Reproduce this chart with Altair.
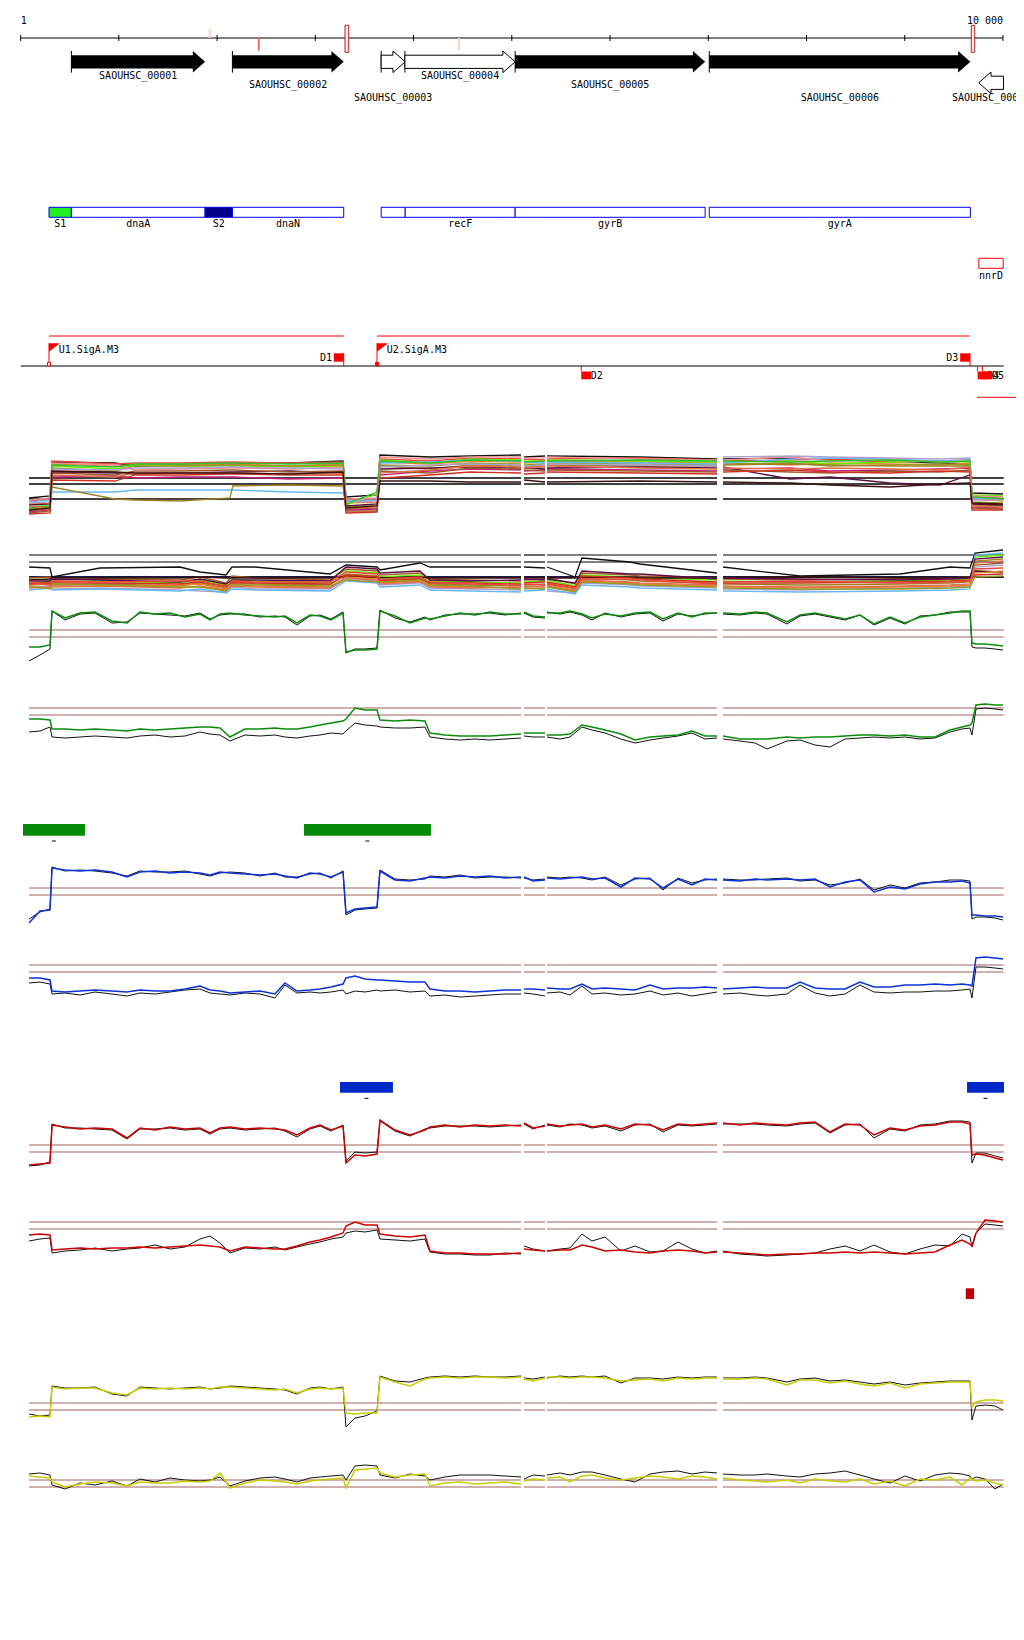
import altair as alt
import pandas as pd

# ====================== values ======================
# --- genome ruler (bp) ---
RULER_TICKS = [1, 1000, 2000, 3000, 4000, 5000, 6000, 7000, 8000, 9000, 10000]
RULER_LABEL_POS = [1, 10000]
RULER_LABELS = ["1", "10 000"]

# sites marked on the ruler
SITE_START = [1915, 2414, 3302, 4452, 9677]
SITE_END = [1935, 2434, 3340, 4472, 9712]
SITE_KIND = ["faint_up", "strong_down", "boxed", "faint_down", "boxed"]

# --- genes ---
GENE_NAMES = ["SAOUHSC_00001", "SAOUHSC_00002", "SAOUHSC_00003", "SAOUHSC_00004",
              "SAOUHSC_00005", "SAOUHSC_00006", "SAOUHSC_00007"]
GENE_START = [517, 2156, 3670, 3912, 5034, 7010, 9753]
GENE_END = [1878, 3289, 3915, 5034, 6968, 9668, 10005]
GENE_STRAND = ["+", "+", "+", "+", "+", "+", "-"]
GENE_FILLED = [True, True, False, False, True, True, False]
GENE_LANE = [0, 0, 0, 0, 0, 0, 1]
GENE_LABEL_ROW = [0, 1, 2, 0, 1, 2, 2]

# --- annotation boxes ---
BOX_LABELS = ["S1", "dnaA", "S2", "dnaN", "", "recF", "gyrB", "gyrA"]
BOX_START = [289, 517, 1878, 2156, 3670, 3915, 5034, 7010]
BOX_END = [517, 1878, 2156, 3289, 3915, 5034, 6968, 9668]
BOX_KIND = ["sig1", "cds", "sig2", "cds", "cds", "cds", "cds", "cds"]
NNRD_LABEL, NNRD_START, NNRD_END = "nnrD", 9754, 10002

# --- transcription units, promoters, terminators ---
TU_START = [289, 3628]
TU_END = [3289, 9662]
REV_TU_START = [9736]
REV_TU_END = [10400]
PROM_NAMES = ["U1.SigA.M3", "U2.SigA.M3"]
PROM_POS = [289, 3628]
PROM_OPEN = [True, False]
TERM_NAMES = ["D1", "D2", "D3", "D4", "D5"]
TERM_POS = [3289, 5707, 9664, 9742, 9790]
TERM_STRAND = ["+", "-", "+", "-", "-"]

# --- regions (bars) ---
GREEN_BAR_START = [24, 2884]
GREEN_BAR_END = [655, 4177]
BLUE_BAR_START = [3251, 9634]
BLUE_BAR_END = [3790, 10010]
RED_BOX_START = [9621]
RED_BOX_END = [9706]

# --- probe positions shared by the two-colour signal tracks (bp) ---
PROBE_POS = [86, 197, 299, 320, 452, 605, 757, 930, 1083, 1215,
             1368, 1521, 1673, 1826, 1928, 2030, 2131, 2284, 2437, 2589,
             2691, 2813, 2946, 3048, 3159, 3282, 3312, 3404, 3506, 3628,
             3658, 3811, 3964, 4116, 4167, 4320, 4473, 4625, 4778, 4931,
             5094,
             5124, 5216, 5338,
             5358, 5491, 5592, 5714, 5816, 5949, 6111, 6254, 6407, 6539, 6692, 6834, 6967, 7089,
             7150, 7323, 7475, 7598, 7801, 7934, 8086, 8239, 8392, 8544,
             8687, 8850, 9002, 9155, 9308, 9460, 9583, 9664, 9684, 9725,
             9817, 9918, 10000]

T3_COLOR = [-10, -10, -8, 26, 19, 24, 25, 16, 14, 25, 23, 24, 20, 23, 17, 23, 24, 22, 21, 20,
            21, 14, 22, 21, 17, 24, -15, -13, -13, -12, 26, 21, 14, 19, 18, 21, 24, 22, 25, 23,
            23, 25, 21, 20, 24, 24, 26, 23, 19, 23, 21, 24, 25, 18, 24, 20, 24, 24,
            24, 23, 25, 24, 15, 22, 24, 21, 18, 22, 13, 20, 14, 20, 22, 24, 26, 26, -6, -7, -7, -8, -9]
T3_BLACK = [-24, -18, -12, 26, 17, 23, 24, 14, 15, 24, 23, 22, 21, 24, 18, 22, 23, 23, 20, 21,
            20, 12, 21, 22, 18, 25, -16, -12, -12, -11, 27, 19, 15, 20, 17, 22, 23, 23, 24, 22,
            24, 24, 20, 19, 25, 23, 25, 22, 17, 24, 20, 23, 24, 16, 23, 21, 23, 24,
            23, 22, 24, 23, 13, 21, 23, 20, 17, 22, 12, 19, 13, 21, 22, 25, 25, 25, -10, -11, -11, -12, -13]
T4_COLOR = [-4, -4, -5, -14, -14, -15, -14, -15, -16, -14, -15, -14, -13, -12, -12, -13, -22, -14, -14, -13,
            -14, -14, -12, -10, -8, -6, -4, 7, 5, 5, -5, -6, -5, -6, -18, -20, -21, -21, -21, -20,
            -19, -18, -18, -18, -20, -20, -19, -10, -12, -15, -19, -25, -22, -21, -20, -16, -21, -21,
            -21, -24, -24, -24, -22, -23, -22, -22, -21, -20, -20, -21, -20, -22, -22, -15, -12, -10, -8, 10, 11, 10, 10]
T4_BLACK = [-17, -16, -12, -22, -23, -22, -21, -22, -23, -21, -20, -22, -21, -17, -19, -20, -26, -20, -21, -20,
            -22, -23, -21, -20, -18, -19, -16, -8, -10, -11, -12, -13, -13, -12, -22, -24, -25, -24, -25, -24,
            -23, -21, -22, -22, -22, -24, -22, -12, -15, -18, -24, -28, -25, -23, -21, -18, -24, -23,
            -24, -26, -28, -34, -26, -25, -30, -32, -24, -23, -22, -23, -22, -24, -23, -17, -14, -13, -20, 6, 7, 6, 5]
T5_COLOR = [-28, -16, -15, 27, 25, 24, 25, 23, 18, 23, 24, 22, 23, 22, 20, 23, 22, 21, 20, 21,
            19, 17, 22, 21, 18, 23, -18, -14, -13, -12, 24, 15, 14, 17, 18, 17, 19, 18, 19, 17,
            18, 18, 14, 15, 17, 16, 17, 18, 16, 17, 8, 17, 16, 7, 16, 10, 16, 15,
            15, 14, 16, 15, 16, 15, 16, 8, 13, 15, 3, 8, 6, 11, 13, 13, 14, 12, -20, -20, -21, -21, -22]
T5_BLACK = [-24, -17, -14, 28, 24, 25, 24, 22, 19, 24, 23, 23, 24, 21, 19, 22, 23, 22, 19, 22,
            18, 18, 21, 22, 17, 24, -20, -15, -14, -13, 25, 16, 15, 16, 19, 18, 20, 17, 18, 18,
            17, 17, 15, 16, 18, 17, 18, 17, 15, 18, 10, 16, 17, 5, 17, 12, 15, 16,
            16, 15, 15, 16, 17, 14, 15, 10, 12, 16, 5, 10, 7, 12, 13, 15, 15, 14, -24, -22, -22, -23, -25]
T6_COLOR = [-6, -6, -8, -19, -20, -19, -18, -19, -20, -18, -19, -19, -17, -14, -18, -19, -21, -20, -19, -22,
            -11, -19, -18, -17, -15, -12, -6, -4, -7, -8, -8, -9, -10, -10, -17, -19, -19, -20, -19, -18,
            -18, -17, -17, -18, -16, -17, -17, -12, -17, -16, -17, -18, -13, -17, -16, -16, -15, -16,
            -17, -16, -15, -16, -16, -10, -16, -17, -17, -10, -15, -15, -13, -13, -12, -13, -12, -13, -14, 14, 15, 14, 13]
T6_BLACK = [-11, -10, -12, -22, -21, -23, -20, -22, -24, -21, -22, -20, -18, -17, -21, -22, -23, -21, -22, -26,
            -13, -21, -20, -21, -20, -18, -22, -19, -20, -18, -19, -18, -20, -19, -24, -23, -25, -24, -23, -22,
            -22, -21, -22, -24, -21, -20, -23, -14, -22, -21, -23, -22, -19, -23, -21, -24, -22, -20,
            -22, -21, -23, -24, -22, -13, -21, -24, -22, -13, -20, -21, -20, -20, -19, -19, -18, -17, -26, 5, 5, 4, 3]
T7_COLOR = [-13, -12, -11, 27, 25, 23, 24, 23, 14, 24, 22, 25, 23, 24, 19, 24, 25, 23, 24, 23,
            22, 17, 24, 27, 22, 26, -11, -3, -4, -2, 32, 22, 17, 22, 25, 27, 25, 27, 26, 27,
            26, 29, 24, 26, 28, 26, 27, 28, 25, 27, 23, 28, 27, 22, 28, 27, 28, 29,
            29, 27, 29, 28, 27, 29, 30, 20, 28, 27, 17, 24, 22, 26, 27, 30, 30, 28, -3, -2, -3, -6, -8]
T7_BLACK = [-14, -13, -10, 28, 24, 24, 23, 22, 13, 23, 23, 24, 22, 23, 18, 23, 24, 22, 23, 24,
            21, 15, 23, 26, 21, 27, -9, 0, -1, 0, 31, 21, 16, 23, 24, 26, 26, 26, 25, 26,
            27, 28, 23, 27, 27, 25, 28, 27, 24, 26, 21, 27, 28, 20, 27, 26, 27, 28,
            28, 28, 28, 27, 26, 28, 29, 19, 27, 28, 14, 23, 21, 27, 28, 31, 31, 30, -11, -1, -1, -4, -6]
T8_COLOR = [-6, -5, -6, -21, -20, -19, -20, -19, -19, -18, -19, -18, -17, -16, -17, -18, -22, -18, -19, -20,
            -20, -17, -13, -11, -8, -4, 3, 7, 4, 4, -5, -7, -8, -6, -22, -24, -24, -25, -25, -25,
            -24, -20, -21, -22, -22, -21, -21, -16, -18, -22, -21, -23, -24, -22, -21, -22, -24, -23,
            -23, -24, -25, -26, -25, -25, -24, -24, -23, -24, -23, -24, -25, -24, -23, -16, -11, -15, -17, -4, 9, 8, 7]
T8_BLACK = [-12, -10, -9, -24, -22, -21, -19, -22, -20, -19, -16, -20, -18, -10, -7, -14, -24, -19, -20, -18,
            -21, -18, -15, -13, -10, -8, -4, -2, -3, -1, -10, -11, -12, -10, -23, -25, -25, -26, -26, -24,
            -25, -17, -20, -22, -22, -20, -19, -5, -12, -8, -22, -17, -23, -22, -13, -20, -24, -22,
            -22, -25, -26, -27, -26, -25, -24, -20, -17, -22, -16, -23, -25, -20, -16, -17, -5, -8, -18, -4, 5, 4, 3]
T9_COLOR = [-7, -6, -7, 23, 21, 22, 22, 17, 15, 22, 21, 22, 21, 22, 21, 23, 23, 22, 21, 20,
            21, 17, 21, 22, 21, 22, -3, -4, -3, -3, 33, 28, 24, 31, 32, 33, 32, 33, 33, 32,
            33, 31, 29, 32, 33, 33, 32, 33, 33, 32, 29, 30, 31, 29, 32, 31, 32, 32,
            31, 31, 32, 31, 25, 30, 30, 27, 29, 26, 24, 27, 22, 26, 27, 28, 28, 28, 3, 8, 10, 10, 9]
T9_BLACK = [-4, -6, -5, 24, 22, 22, 23, 16, 14, 23, 22, 21, 22, 23, 21, 22, 24, 23, 22, 21,
            20, 16, 22, 23, 21, 23, -17, -8, -6, -1, 34, 29, 28, 32, 33, 34, 33, 34, 33, 33,
            34, 32, 31, 33, 32, 34, 33, 34, 33, 34, 27, 32, 32, 31, 33, 32, 33, 33,
            32, 32, 33, 32, 28, 31, 32, 29, 30, 28, 26, 28, 25, 27, 28, 29, 29, 29, -10, 4, 5, 4, 0]
T10_COLOR = [11, 10, 9, 5, 0, 3, 5, 4, 1, 5, 4, 4, 6, 5, 6, 14, -1, 4, 7, 6,
             5, 3, 6, 7, 8, 9, -1, 17, 18, 19, 14, 10, 12, 13, 1, 4, 5, 3, 4, 5,
             3, 6, 8, 7, 9, 10, 5, 11, 12, 9, 7, 9, 11, 10, 8, 11, 10, 8,
             9, 7, 6, 5, 7, 4, 8, 6, 5, 8, 3, 6, 1, 8, 7, 10, 2, 9, 8, 6, 7, 4, 2]
T10_BLACK = [13, 14, 12, 2, -2, 4, 2, 6, 1, 8, 5, 9, 7, 6, 7, 10, 1, 6, 9, 10,
             8, 5, 9, 10, 11, 12, 7, 21, 22, 21, 12, 9, 13, 11, 7, 10, 12, 12, 12, 11,
             10, 8, 12, 11, 12, 14, 12, 15, 15, 12, 8, 5, 13, 15, 16, 13, 15, 14,
             13, 12, 12, 13, 11, 10, 13, 14, 16, 12, 8, 4, 11, 6, 12, 14, 13, 11, 8, 10, 8, -2, 3]

# --- multi-sample track 1 ---
T1_POS = [86, 299, 320, 961, 1164, 1622, 2131, 2160, 2742, 3282, 3312, 3628, 3658, 4167, 4574, 5094,
          5124, 5338, 5358, 6305, 7089, 7150, 7832, 8239, 8850, 9359, 9664, 9684, 10000]
T1_SAMPLES = [
    [1, 3, 37, 36, 33, 34, 35, 35, 36, 38, 2, 4, 44, 42, 43, 44, 42, 43, 43, 42, 40, 40, 41, 39, 38, 36, 35, 6, 5],
    [-2, 0, 38, 35, 36, 36, 37, 37, 36, 37, -1, 0, 40, 38, 41, 40, 40, 39, 40, 41, 39, 38, 39, 40, 37, 38, 39, 2, 1],
    [-5, -4, 35, 33, 34, 34, 35, 35, 33, 35, -4, -3, 37, 35, 38, 37, 36, 37, 38, 37, 36, 36, 34, 36, 35, 34, 36, 0, -2],
    [-8, -6, 33, 30, 34, 33, 33, 33, 32, 33, -6, 5, 39, 36, 40, 39, 38, 38, 39, 38, 37, 37, 38, 35, 37, 38, 37, 4, 3],
    [-10, -8, 31, 28, 33, 33, 34, 34, 33, 34, -8, -6, 34, 33, 36, 35, 34, 35, 36, 35, 34, 35, 36, 33, 34, 35, 34, -3, -4],
    [-3, -1, 7, 7, 9, 9, 9, 9, 7, 6, -2, -1, 36, 37, 39, 38, 37, 36, 37, 36, 35, 36, 40, 41, 40, 38, 39, 1, 0],
    [-12, -10, 12, 0, -1, -2, 1, 13, 14, 13, -10, -9, 33, 30, 34, 33, 32, 33, 34, 33, 33, 34, 35, 34, 33, 33, 33, -6, -7],
    [-13, -11, 22, 23, 21, 22, 22, 22, 20, 21, -11, -10, 24, 28, 30, 29, 28, 29, 30, 29, 28, 30, 31, 28, 29, 30, 31, -8, -9],
    [-6, -5, 27, 26, 25, 26, 27, 27, 28, 26, -7, -5, 30, 31, 32, 31, 31, 30, 31, 32, 31, 32, 20, 22, 16, 14, 24, -5, -6],
    [-14, -12, 26, 24, 28, 28, 29, 29, 27, 28, -12, -12, 28, 26, 31, 30, 29, 28, 29, 28, 27, 29, 27, 26, 28, 27, 29, -9, -10],
    [-1, 1, 36, 34, 29, 30, 31, 31, 30, 32, 0, 1, 42, 40, 42, 42, 41, 41, 42, 40, 39, 39, 42, 38, 39, 37, 38, 3, 2],
    [-15, -14, 19, 18, 24, 24, 25, 25, 24, 24, -14, -13, 21, 24, 27, 26, 25, 26, 27, 26, 25, 27, 29, 27, 26, 28, 27, -11, -11],
    [-4, -3, 30, 29, 31, 31, 32, 32, 31, 30, -3, -2, 32, 34, 35, 34, 33, 34, 35, 34, 33, 42, 43, 42, 41, 40, 41, -1, -1],
    [-9, -7, 34, 32, 35, 35, 36, 36, 35, 36, -5, 7, 38, 36, 39, 38, 37, 38, 38, 39, 38, 38, 37, 38, 39, 37, 38, 2, 0],
    [-7, -9, 24, 22, 26, 26, 26, 26, 25, 25, -9, -8, 26, 29, 33, 32, 31, 32, 33, 31, 30, 31, 30, 31, 30, 29, 32, -7, -8],
    [-11, -9, 28, 27, 26, 26, 26, 26, 25, 27, -9, -7, 18, 18, 17, 17, 19, 17, 17, 18, 17, 17, 16, 14, 12, 15, 16, -4, -5],
]

# --- multi-sample track 2 ---
T2_POS = [86, 299, 320, 808, 1622, 1826, 2091, 2152, 2386, 3149, 3312, 3628, 3658, 4065, 4167, 4574,
          5094, 5124, 5338, 5358, 5643, 5714, 6203, 6305, 7089, 7150, 7934, 8951, 9460, 9664, 9715, 10000]
T2_SAMPLES = [
    [10, 9, 0, 9, 10, 5, 2, 10, 10, 3, 12, 10, 7, 14, 10, 10, 10, 10, 9, 10, 0, 19, 15, 13, 4, 10, 1, 3, 10, 9, 24, 27],
    [-2, -3, -5, -4, -6, -3, -8, -2, -4, -6, 6, 4, 0, 2, -4, -5, -6, -5, -4, -3, -9, 2, 0, -1, -3, -4, -5, -4, -3, -2, 20, 22],
    [-6, -5, -8, -7, -9, -6, -11, -5, -7, -8, 3, 1, -3, -1, -7, -8, -9, -8, -7, -6, -12, -1, -3, -4, -6, -7, -8, -7, -6, -5, 16, 18],
    [-1, 0, -3, -2, -3, 0, -6, 1, -1, -3, 8, 6, 2, 4, -2, -3, -4, -3, -2, -1, -7, 4, 2, 1, -1, -2, -3, -2, -1, 0, 12, 14],
    [-10, -9, -12, -11, -13, -14, -15, -10, -12, -12, -2, -4, -8, -6, -11, -12, -13, -12, -11, -14, -16, -6, -8, -9, -11, -12, -13, -11, -10, -9, 10, 12],
    [-3, -2, -1, -1, -1, 0, -1, -1, -1, -1, 1, 0, -1, 0, -1, -1, -1, -1, -1, -1, -1, 0, 0, -1, -1, -1, 0, -1, -1, 0, 6, 5],
    [-8, -7, -10, -9, -8, -7, -12, -7, -9, -10, 0, -2, -6, -4, -9, -10, -11, -10, -9, -8, -13, -4, -6, -7, -9, -10, -11, -10, -9, -8, 4, 6],
    [-13, -11, -13, -12, -14, -12, -16, -12, -13, -14, -4, -6, -10, -8, -13, -14, -15, -14, -13, -12, -17, -8, -10, -11, -13, -14, -15, -14, -13, -12, 22, 24],
    [-4, -4, -2, -3, -5, -2, -7, -3, -3, -4, 10, 8, 4, 6, -3, -4, -3, -2, -3, -2, -6, 6, 3, 3, -2, -1, -2, -3, -2, -1, 18, 20],
    [-7, -6, -6, -6, -7, -5, -9, -6, -6, -7, 2, 0, -4, -2, -6, -6, -7, -6, -5, -5, -10, 1, -1, -2, -5, -6, -6, -5, -4, -3, 2, 3],
    [-11, -10, -9, -9, -11, -9, -13, -9, -10, -11, -1, -3, -7, -5, -10, -11, -10, -9, -10, -9, -14, -3, -5, -6, -8, -9, -10, -9, -8, -7, 14, 16],
    [-5, -8, -4, -5, -4, -4, -10, -4, -5, -5, 5, 3, -2, 0, -5, -7, -8, -7, -8, -7, -11, -2, -2, -3, -7, -5, -4, -6, -5, -4, 8, 9],
    [-9, -12, -7, -8, -10, -10, -14, -8, -8, -9, -3, -5, -5, -3, -8, -9, -12, -11, -12, -10, -15, -5, -7, -8, -10, -11, -12, -12, -11, -10, 0, 1],
]

# reference levels of the tracks
T1_LEVELS = [0, 15, 21]
T2_LEVELS = [15, 22]
T2_ZERO = [0]
PAIR_LEVELS = [0, 7]

# ====================== styles & layout ======================
SAMPLE_COLORS = ["#111111", "#e8483c", "#f08030", "#66ee00", "#999922", "#66b8f0", "#a08020", "#c0207a",
                 "#5a1040", "#a05a2c", "#f09090", "#d03020", "#b0a0d0", "#30c030", "#e07050", "#3a1010"]
REF_BROWN = "#a0605c"
PAIR_TRACKS = [  # (colour values, black values, colour, track base y)
    (T3_COLOR, T3_BLACK, "#0a8c0a", 637), (T4_COLOR, T4_BLACK, "#0a8c0a", 715),
    (T5_COLOR, T5_BLACK, "#0a32d8", 895), (T6_COLOR, T6_BLACK, "#0a32d8", 972),
    (T7_COLOR, T7_BLACK, "#cc0000", 1152), (T8_COLOR, T8_BLACK, "#cc0000", 1229),
    (T9_COLOR, T9_BLACK, "#c9cc00", 1410), (T10_COLOR, T10_BLACK, "#c9cc00", 1487),
]
T1_BASE, T2_BASE = 499, 577
GAPS = [5110, 5348, 7120]
SEG_SPANS = [(86, 5094), (5124, 5338), (5358, 7089), (7150, 10007)]

W, H = 1008, 1600                    # page is 1024 wide: 8px margins on both sides
PX0, BP_PX = 20.7, 0.09824          # page x of bp 1, pixels per bp
XD0 = 1 + (8 - PX0) / BP_PX
XD1 = 1 + (8 + W - PX0) / BP_PX
FONT = "DejaVu Sans Mono"
HEAD_BP = 125
LANE_Y = [61.8, 82.8]
LABEL_ROW_Y = [76, 85, 97.5]


def seg(p):
    return sum(p > g for g in GAPS)


XS = alt.Scale(domain=[XD0, XD1], nice=False, zero=False)
YS = alt.Scale(domain=[8, 8 + H], reverse=True, nice=False, zero=False)
EX = alt.X("x:Q", scale=XS, axis=None)
EY = alt.Y("y:Q", scale=YS, axis=None)

# ---------------- build tables ----------------
under, over, rules, rects, labels = [], [], [], [], {"left": [], "center": [], "right": []}
arrows_fill, arrows_open, flags = [], [], []


def add_series(store, key, pos, vals, base, color, width):
    assert len(pos) == len(vals), (key, len(pos), len(vals))
    for p, v in zip(pos, vals):
        store.append(dict(x=p, y=base - v, key=f"{key}_{seg(p)}", color=color, w=width))


def hline(y, x1, x2, color, w):
    rules.append(dict(x=x1, x2=x2, y=y, y2=y, color=color, w=w))


def vline(x, y1, y2, color, w):
    rules.append(dict(x=x, x2=x, y=y1, y2=y2, color=color, w=w))


def rect(x1, x2, y1, y2, fill, stroke=None, sw=0):
    rects.append(dict(x=x1, x2=x2, y=y1, y2=y2, fill=fill, stroke=stroke or fill, sw=sw))


def label(align, x, y, text):
    labels[align].append(dict(x=x, y=y, text=text))


# ruler
hline(38, 1, 10000, "black", 1)
for t in RULER_TICKS:
    vline(t, 35, 41, "black", 1)
label("left", RULER_LABEL_POS[0], 20.5, RULER_LABELS[0])
label("right", RULER_LABEL_POS[1], 20.5, RULER_LABELS[1])
for s, e, k in zip(SITE_START, SITE_END, SITE_KIND):
    if k == "faint_up":
        rect(s, e, 29, 38, "#f9d3c4")
    elif k == "faint_down":
        rect(s, e, 38, 50, "#f9d3c4")
    elif k == "strong_down":
        rect(s, e, 38, 50.7, "#f26a4b")
    else:
        rect(s, e, 25.3, 52.3, "#fde8e2", "#b22222", 1)

# genes
for i, (n, s, e, st, fl, ln, row) in enumerate(zip(GENE_NAMES, GENE_START, GENE_END, GENE_STRAND,
                                                    GENE_FILLED, GENE_LANE, GENE_LABEL_ROW)):
    yc = LANE_Y[ln]
    bh, hh = 6.6, 10.8
    if st == "+":
        pts = [(s, yc - bh, yc + bh), (e - HEAD_BP, yc - bh, yc + bh),
               (e - HEAD_BP + 0.5, yc - hh, yc + hh), (e, yc, yc)]
        vline(s, yc - hh, yc + hh, "black", 1)
    else:
        pts = [(s, yc, yc), (s + HEAD_BP - 0.5, yc - hh, yc + hh),
               (s + HEAD_BP, yc - bh, yc + bh), (e, yc - bh, yc + bh)]
    store = arrows_fill if fl else arrows_open
    for x, y1, y2 in pts:
        store.append(dict(x=x, y=y1, y2=y2, key=n))
    label("center", (s + e) / 2, LABEL_ROW_Y[row], n)

# annotation boxes
for lab, s, e, k in zip(BOX_LABELS, BOX_START, BOX_END, BOX_KIND):
    fill = {"sig1": "#22ee22", "sig2": "#00008b", "cds": "white"}[k]
    rect(s, e, 207.3, 217.3, fill, "#0000ee", 1)
    if lab:
        label("center", (s + e) / 2, 224, lab)
rect(NNRD_START, NNRD_END, 258.3, 268.3, "white", "#ff0000", 1)
label("center", (NNRD_START + NNRD_END) / 2, 275.5, NNRD_LABEL)

# transcription units / promoters / terminators
for s, e in zip(TU_START, TU_END):
    hline(336, s, e, "#ff0000", 1)
for s, e in zip(REV_TU_START, REV_TU_END):
    hline(397.3, s, e, "#ff0000", 1)
hline(366, 1, 10007, "black", 1.2)
for n, p, op in zip(PROM_NAMES, PROM_POS, PROM_OPEN):
    vline(p, 343.3, 366, "#ff0000", 1)
    flags.append(dict(x=p, y=343.3, y2=351.7, key=n))
    flags.append(dict(x=p + 112, y=343.3, y2=343.3, key=n))
    rect(p - 15, p + 15, 362.3, 366, "white" if op else "#ff0000", "#ff0000", 1)
    label("left", p + 99, 350, n)
for n, p, st in zip(TERM_NAMES, TERM_POS, TERM_STRAND):
    if st == "+":
        vline(p, 353.3, 366, "#ff0000", 1)
        rect(p - 100, p, 353.3, 361.7, "#ff0000")
        label("right", p - 120, 357.7, n)
    else:
        vline(p, 366, 371.5, "#ff0000", 1)
        rect(p, p + 100, 371.5, 379.3, "#ff0000")
        label("left", p + 97, 375.7, n)

# region bars
for s, e in zip(GREEN_BAR_START, GREEN_BAR_END):
    rect(s, e, 824, 835.7, "#078a07")
    hline(841, (s + e) / 2 - 20, (s + e) / 2 + 20, "black", 1)
for s, e in zip(BLUE_BAR_START, BLUE_BAR_END):
    rect(s, e, 1082, 1092.7, "#0028c8")
    hline(1098.3, (s + e) / 2 - 20, (s + e) / 2 + 20, "black", 1)
for s, e in zip(RED_BOX_START, RED_BOX_END):
    rect(s, e, 1288.3, 1299, "#c00000")

# signal tracks: reference levels
for a, b in SEG_SPANS:
    for lv in T1_LEVELS:
        hline(T1_BASE - lv, a, b, "black", 1.4)
    for lv in T2_LEVELS:
        hline(T2_BASE - lv, a, b, "black", 1.2)
    for lv in T2_ZERO:
        hline(T2_BASE - lv, a, b, "#1a1a40", 2)
    for _, _, _, base in PAIR_TRACKS:
        for lv in PAIR_LEVELS:
            hline(base - lv, a, b, REF_BROWN, 1)

# signal tracks: series
for i, vals in enumerate(T1_SAMPLES):
    add_series(over, f"a{i:02d}", T1_POS, vals, T1_BASE, SAMPLE_COLORS[i], 1.3)
for i, vals in enumerate(T2_SAMPLES):
    add_series(over, f"b{i:02d}", T2_POS, vals, T2_BASE,
               SAMPLE_COLORS[(i * 3) % len(SAMPLE_COLORS)] if i else "#111111", 1.3)
for j, (cv, bv, col, base) in enumerate(PAIR_TRACKS):
    add_series(under, f"k{j}", PROBE_POS, bv, base, "#111111", 1)
    add_series(over, f"c{j}", PROBE_POS, cv, base, col, 1.5)

# ---------------- layers ----------------
def line_layer(rows):
    return alt.Chart(pd.DataFrame(rows)).mark_line(interpolate="linear").encode(
        x=EX, y=EY, detail="key:N",
        color=alt.Color("color:N", scale=None),
        strokeWidth=alt.StrokeWidth("w:Q", scale=None))


def area_layer(rows, **kw):
    return alt.Chart(pd.DataFrame(rows)).mark_area(orient="vertical", opacity=1, **kw).encode(
        x=EX, y=EY, y2="y2:Q", detail="key:N")


def text_layer(rows, align):
    return alt.Chart(pd.DataFrame(rows)).mark_text(
        align=align, baseline="middle", font=FONT, fontSize=10, color="black").encode(
        x=EX, y=EY, text="text:N")


layers = [
    alt.Chart(pd.DataFrame(rules)).mark_rule().encode(
        x=EX, x2="x2:Q", y=EY, y2="y2:Q",
        color=alt.Color("color:N", scale=None),
        strokeWidth=alt.StrokeWidth("w:Q", scale=None)),
    line_layer(under),
    line_layer(over),
    text_layer(labels["left"], "left"),
    text_layer(labels["center"], "center"),
    text_layer(labels["right"], "right"),
    alt.Chart(pd.DataFrame(rects)).mark_rect().encode(
        x=EX, x2="x2:Q", y=EY, y2="y2:Q",
        fill=alt.Fill("fill:N", scale=None),
        stroke=alt.Stroke("stroke:N", scale=None),
        strokeWidth=alt.StrokeWidth("sw:Q", scale=None)),
    area_layer(arrows_fill, color="black"),
    area_layer(arrows_open, fill="white", stroke="black", strokeWidth=1),
    area_layer(flags, color="#ff0000"),
]

chart = alt.layer(*layers).properties(
    width=W, height=H, padding=0,
    autosize=alt.AutoSizeParams(type="none"),
).configure_view(stroke=None)

chart.save("out.html", embed_options={"renderer": "svg", "actions": False})
